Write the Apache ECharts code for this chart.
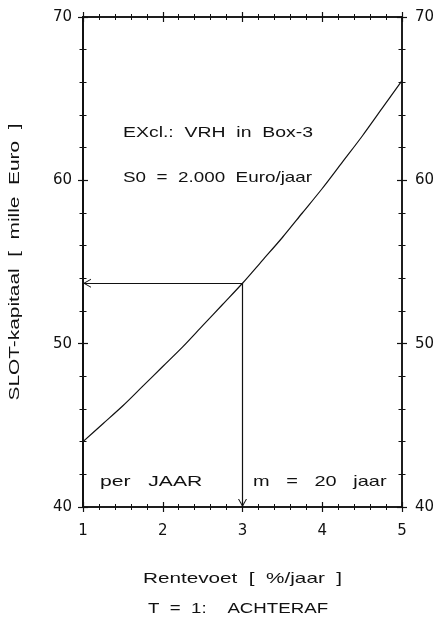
<!DOCTYPE html>
<html>
<head>
<meta charset="utf-8">
<script src="https://cdn.jsdelivr.net/npm/echarts@6/dist/echarts.min.js"></script>
<style>
  html, body { margin: 0; padding: 0; background: #fff; }
  #chart { width: 438px; height: 621px; }
</style>
</head>
<body>
<div id="chart"></div>
<script>
// Rentevoet (%/jaar) and final capital (mille Euro) after 20 annual deposits
const rentevoet = [1, 1.25, 1.5, 1.75, 2, 2.25, 2.5, 2.75, 3, 3.25, 3.5, 3.75, 4, 4.25, 4.5, 4.75, 5];
const slotKapitaal = [44.0, 45.1, 46.2, 47.4, 48.6, 49.8, 51.1, 52.4, 53.7, 55.1, 56.5, 58.0, 59.5, 61.1, 62.7, 64.4, 66.1];

// Highlighted reading on the curve
const leesRente = 3;
const leesKapitaal = slotKapitaal[rentevoet.indexOf(leesRente)];

const xTicks = [1, 2, 3, 4, 5];
const yTicks = [40, 50, 60, 70];

const FONT = 'Liberation Sans';
const LABEL_FONT = 'DejaVu Sans';
const INK = '#111';

const chart = echarts.init(document.getElementById('chart'));

function xAxisDef(pos, inside, labels) {
  return {
    type: 'value', position: pos,
    min: xTicks[0], max: xTicks[xTicks.length - 1], interval: 1,
    axisLine: { show: true, onZero: false, lineStyle: { color: INK, width: 1.5 } },
    axisTick: { show: true, inside: inside, length: 5, lineStyle: { color: INK, width: 1.2 } },
    minorTick: { show: true, splitNumber: 5, length: 3, lineStyle: { color: INK, width: 1 } },
    splitLine: { show: false },
    axisLabel: { show: labels, color: INK, fontFamily: LABEL_FONT, fontSize: 15, margin: 17 }
  };
}
function yAxisDef(pos, inside, labels, width) {
  return {
    type: 'value', position: pos,
    min: yTicks[0], max: yTicks[yTicks.length - 1], interval: 10,
    axisLine: { show: true, onZero: false, lineStyle: { color: INK, width: width } },
    axisTick: { show: true, inside: inside, length: 5, lineStyle: { color: INK, width: 1.2 } },
    minorTick: { show: true, splitNumber: 5, length: 3.5, lineStyle: { color: INK, width: 1 } },
    splitLine: { show: false },
    axisLabel: { show: labels, color: INK, fontFamily: LABEL_FONT, fontSize: 15, margin: pos === 'left' ? 11 : 13 }
  };
}

// Open chevron arrow head; the tip sits at the centre of the box so it lands on the end point
const chevron = 'path://M0,0 L0.02,0 L0,0.02 Z M0,8 L4.6,16 L3.5,16 L0,9.9 L-3.5,16 L-4.6,16 Z';

function note(text, x, y, size, sx) {
  return {
    type: 'text', x: x, y: y, scaleX: sx,
    style: { text: text, font: size + 'px ' + FONT, fill: INK, align: 'left', verticalAlign: 'middle' }
  };
}

const option = {
  animation: false,
  backgroundColor: '#fff',
  grid: { left: 83, right: 36, top: 17, bottom: 114, containLabel: false },
  xAxis: [
    xAxisDef('bottom', false, true),
    xAxisDef('bottom', true, false),
    xAxisDef('top', false, false),
    xAxisDef('top', true, false)
  ],
  yAxis: [
    yAxisDef('left', false, true, 2),
    yAxisDef('left', true, false, 2),
    yAxisDef('right', false, true, 1.5),
    yAxisDef('right', true, false, 1.5)
  ],
  series: [{
    type: 'line',
    xAxisIndex: 0, yAxisIndex: 0,
    data: rentevoet.map((r, i) => [r, slotKapitaal[i]]),
    smooth: 0.3,
    showSymbol: false,
    lineStyle: { color: INK, width: 1.2 },
    markLine: {
      silent: true,
      symbol: ['none', chevron],
      symbolSize: [9, 16],
      label: { show: false },
      lineStyle: { color: INK, width: 1.2, type: 'solid' },
      data: [
        [{ coord: [leesRente, leesKapitaal] }, { coord: [xTicks[0], leesKapitaal] }],
        [{ coord: [leesRente, leesKapitaal] }, { coord: [leesRente, yTicks[0]] }]
      ]
    }
  }],
  graphic: [
    note('EXcl.:  VRH  in  Box-3', 123, 133, 15, 1.295),
    note('S0  =  2.000  Euro/jaar', 123, 178, 15, 1.256),
    note('per   JAAR', 100, 482, 15, 1.41),
    note('m   =   20   jaar', 253, 482, 15, 1.33),
    note('Rentevoet  [  %/jaar  ]', 143, 579, 15, 1.38),
    note('T  =  1:    ACHTERAF', 148, 609, 15, 1.245),
    {
      type: 'text', x: 15, y: 262, rotation: Math.PI / 2, scaleX: 1.39,
      style: { text: 'SLOT-kapitaal  [  mille  Euro  ]', font: '15px ' + FONT, fill: INK, align: 'center', verticalAlign: 'middle' }
    }
  ]
};

chart.setOption(option);
</script>
</body>
</html>
